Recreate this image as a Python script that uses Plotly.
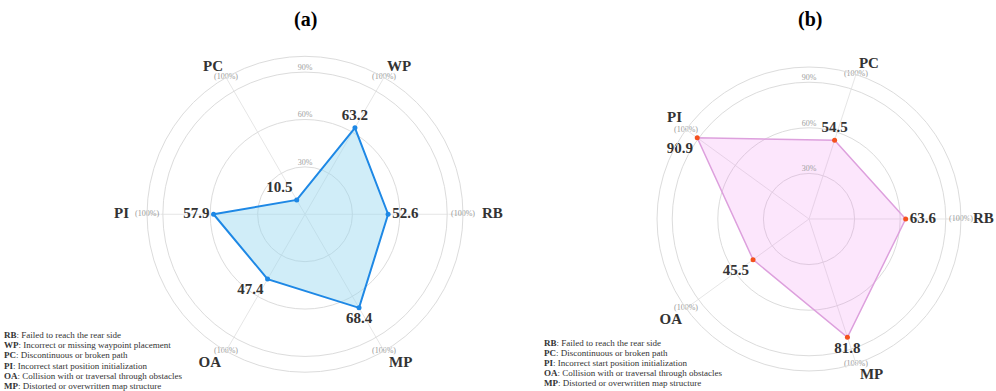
import plotly.graph_objects as go

# (a)
cats_a = ['RB', 'WP', 'PC', 'PI', 'OA', 'MP']
vals_a = [52.6, 63.2, 10.5, 57.9, 47.4, 68.4]
desc_a = ['Failed to reach the rear side',
          'Incorrect or missing waypoint placement',
          'Discontinuous or broken path',
          'Incorrect start position initialization',
          'Collision with or traversal through obstacles',
          'Distorted or overwritten map structure']

# (b)
cats_b = ['RB', 'PC', 'PI', 'OA', 'MP']
vals_b = [63.6, 54.5, 90.9, 45.5, 81.8]
desc_b = ['Failed to reach the rear side',
          'Discontinuous or broken path',
          'Incorrect start position initialization',
          'Collision with or traversal through obstacles',
          'Distorted or overwritten map structure']

ring_vals = [30, 60, 90]
ring_text = ['30%', '60%', '90%']

FONT = 'Liberation Serif'
GRID = '#dcdcdc'

fig = go.Figure()


def add_radar(polar, cats, vals, line_col, fill_col, mark_col, lw, textpos, name_pos, name_gap):
    n = len(cats)
    theta = [i * 360 / n for i in range(n)]
    fig.add_trace(go.Scatterpolar(
        r=vals + vals[:1], theta=theta + theta[:1], mode='lines',
        fill='toself', fillcolor=fill_col,
        line=dict(color=line_col, width=lw),
        subplot=polar, hoverinfo='skip', showlegend=False))
    fig.add_trace(go.Scatterpolar(
        r=vals, theta=theta, mode='markers+text',
        marker=dict(color=mark_col, size=5),
        text=[f'<b>{v:.1f}</b>' for v in vals], textposition=textpos,
        textfont=dict(family=FONT, size=15, color='#333333'),
        subplot=polar, showlegend=False, cliponaxis=False))
    # ring labels
    fig.add_trace(go.Scatterpolar(
        r=ring_vals, theta=[90] * len(ring_vals), mode='text',
        text=ring_text, textposition='top center',
        textfont=dict(family=FONT, size=8, color='#a0a0a0'),
        subplot=polar, showlegend=False, hoverinfo='skip', cliponaxis=False))
    # (100%) at the axis ends
    fig.add_trace(go.Scatterpolar(
        r=[100] * n, theta=theta, mode='text',
        text=['(100%)'] * n, textposition='middle center',
        textfont=dict(family=FONT, size=8, color='#999999'),
        subplot=polar, showlegend=False, hoverinfo='skip', cliponaxis=False))
    # axis names: invisible markers on the outer ring push the text out by name_gap px
    fig.add_trace(go.Scatterpolar(
        r=[100] * n, theta=theta, mode='markers+text',
        marker=dict(color='rgba(0,0,0,0)', size=[max(g - 1, 0) * 1.6 for g in name_gap]),
        text=[f'<b>{c}</b>' for c in cats], textposition=name_pos,
        textfont=dict(family=FONT, size=15, color='#333333'),
        subplot=polar, showlegend=False, hoverinfo='skip', cliponaxis=False))
    return theta


th_a = add_radar('polar', cats_a, vals_a, '#1e88e5', 'rgba(150,215,240,0.45)', '#1e88e5', 2,
                 ['middle right', 'top center', 'top left', 'middle left', 'bottom left', 'bottom center'],
                 ['middle right', 'top right', 'top left', 'middle left', 'bottom left', 'bottom right'],
                 [19, 3, 3, 18, 5, 5])
th_b = add_radar('polar2', cats_b, vals_b, '#dda0dd', 'rgba(238,130,238,0.2)', '#f4511e', 1.5,
                 ['middle right', 'top center', 'bottom left', 'bottom left', 'bottom center'],
                 ['middle right', 'top right', 'top left', 'bottom left', 'bottom right'],
                 [12, 3, 4, 4, 4])


def polar_layout(dx, dy, theta):
    return dict(
        domain=dict(x=dx, y=dy),
        bgcolor='white',
        radialaxis=dict(range=[0, 100], tickvals=ring_vals, showticklabels=False,
                        ticks='', gridcolor=GRID, showline=False),
        angularaxis=dict(type='linear', rotation=0, direction='counterclockwise',
                         tickvals=theta, showticklabels=False, ticks='',
                         gridcolor='#e6e6e6', linecolor=GRID, showline=True),
    )


fig.update_layout(
    width=996, height=391,
    margin=dict(l=0, r=0, t=0, b=0),
    paper_bgcolor='white',
    font=dict(family=FONT, color='#333333'),
    polar=polar_layout([0.1476, 0.4649], [0.048, 0.856], th_a),
    polar2=polar_layout([0.6596, 0.9649], [0.0512, 0.8286], th_b),
)

# panel titles
for x, t in [(0.307, '(a)'), (0.813, '(b)')]:
    fig.add_annotation(x=x, y=1 - 20 / 391, xref='paper', yref='paper', text=f'<b>{t}</b>',
                       xanchor='center', yanchor='middle',
                       showarrow=False, font=dict(family=FONT, size=20, color='black'))

# abbreviation keys
for i, (c, d) in enumerate(zip(cats_a, desc_a)):
    fig.add_annotation(x=2 / 996, y=1 - (335 + 10.2 * i) / 391, xref='paper', yref='paper',
                       xanchor='left', yanchor='middle', showarrow=False,
                       text=f'<b>{c}</b>: {d}', font=dict(family=FONT, size=9, color='#333333'))
for i, (c, d) in enumerate(zip(cats_b, desc_b)):
    fig.add_annotation(x=542 / 996, y=1 - (343 + 10 * i) / 391, xref='paper', yref='paper',
                       xanchor='left', yanchor='middle', showarrow=False,
                       text=f'<b>{c}</b>: {d}', font=dict(family=FONT, size=9, color='#333333'))

fig.write_html('out.html', config={'displayModeBar': False},
               post_script="document.body.style.margin='0';")
